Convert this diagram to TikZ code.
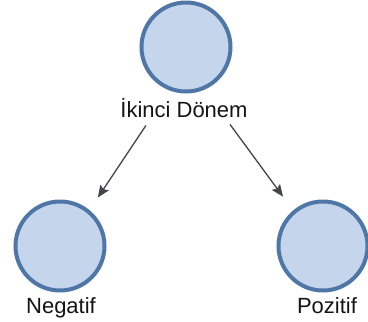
\documentclass[tikz,border=0pt]{standalone}
\usepackage{fontspec}
\setmainfont{Liberation Sans}
\usepackage{tikz}
\usetikzlibrary{calc}
\usetikzlibrary{arrows.meta}
\usetikzlibrary{positioning}
\definecolor{statefill}{RGB}{197,214,236}
\definecolor{stateline}{RGB}{78,118,166}
\definecolor{arrowgray}{RGB}{66,70,72}
\definecolor{labelgray}{RGB}{20,20,20}
\tikzset{state/.style={circle,draw=stateline,line width=4pt,fill=statefill,minimum size=89pt,inner sep=0pt}}
\tikzset{statelbl/.style={anchor=base,inner sep=0pt,text=labelgray,font=\fontsize{22}{26}\selectfont}}
\tikzset{link/.style={draw=arrowgray,line width=1.3pt,-{Stealth[length=12pt,width=10pt,inset=2pt]}}}

\begin{document}
\begin{tikzpicture}[x=1pt,y=-1pt]
  % picture size
  \useasboundingbox (0,0) rectangle (368,322);

  % states
  \node[state] (top) at (186,47) {};
  \node[statelbl] (topl) at (184,117) {İkinci Dönem};
  \node[state] (neg) at (60,246) {};
  \node[statelbl] (negl) at (61,313) {Negatif};
  \node[state] (pos) at (323,246) {};
  \node[statelbl] (posl) at (327,313) {Pozitif};

  % links
  \draw[link] ([xshift=-38pt,yshift=-8pt]topl.south) -- ([shift={(52:15pt)}]neg.52);
  \draw[link] ([xshift=46pt,yshift=-7pt]topl.south) -- ([shift={(129:17pt)}]pos.129);
\end{tikzpicture}
\end{document}
